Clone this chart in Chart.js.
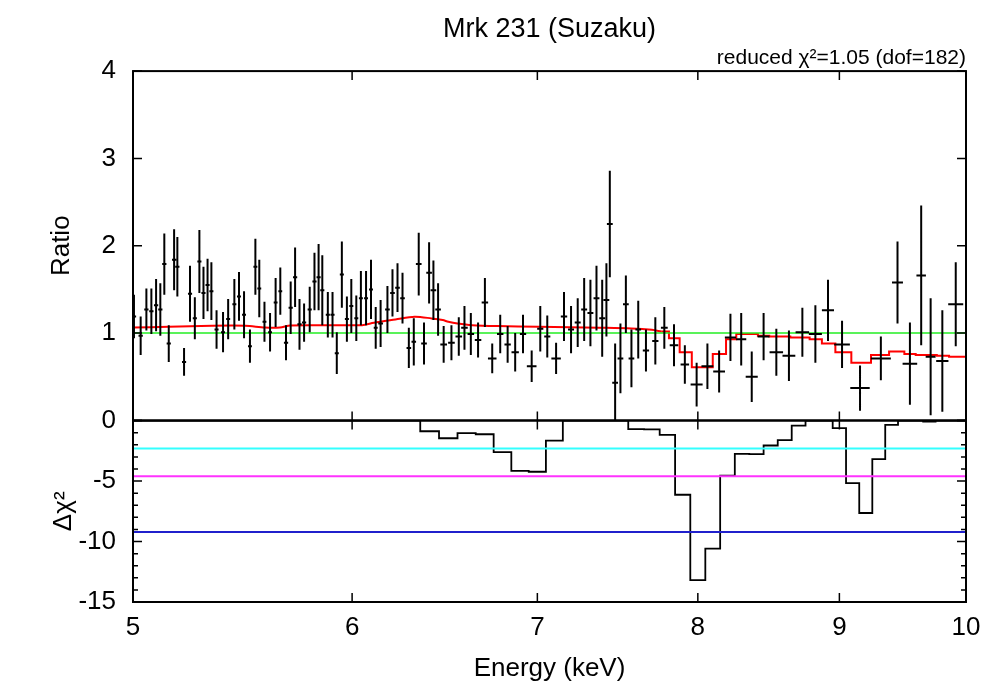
<!DOCTYPE html>
<html>
<head>
<meta charset="utf-8">
<title>Mrk 231 (Suzaku)</title>
<script src="https://cdn.jsdelivr.net/npm/chart.js@4.4.1/dist/chart.umd.min.js"></script>
<style>
  html, body { margin: 0; padding: 0; background: #fff; }
  #wrap { position: relative; width: 1000px; height: 700px; }
  #wrap canvas { position: absolute; left: 0; }
  #ratioChart { top: 0; }
  #chiChart { top: 388px; }
</style>
</head>
<body>
<div id="wrap">
  <canvas id="ratioChart" width="1000" height="453"></canvas>
  <canvas id="chiChart" width="1000" height="312"></canvas>
</div>
<script>
// energy axis
const xMin = 5;
const xMax = 10;
const xTicks = [5, 6, 7, 8, 9, 10];

// data / model ratio (top panel)
const energy = [
  5.004, 5.032, 5.056, 5.077, 5.097, 5.115, 5.132, 5.151, 5.174, 5.188,
  5.217, 5.243, 5.264, 5.284, 5.302, 5.320, 5.337, 5.360, 5.389, 5.412,
  5.440, 5.461, 5.484, 5.511, 5.536, 5.554, 5.578, 5.604, 5.630, 5.652,
  5.679, 5.701, 5.722, 5.743, 5.765, 5.792, 5.815, 5.835, 5.853, 5.880,
  5.903, 5.924, 5.949, 5.974, 5.996, 6.021, 6.044, 6.070, 6.095, 6.119,
  6.144, 6.179, 6.205, 6.231, 6.257, 6.290, 6.316, 6.342, 6.370, 6.397,
  6.420, 6.445, 6.475, 6.517, 6.557, 6.588, 6.623, 6.663, 6.701, 6.742,
  6.787, 6.829, 6.872, 6.917, 6.967, 7.017, 7.058, 7.110, 7.157, 7.199,
  7.239, 7.278, 7.316, 7.353, 7.388, 7.414, 7.435, 7.468, 7.501, 7.535,
  7.570, 7.613, 7.662, 7.722, 7.780, 7.843, 7.914, 7.992, 8.064, 8.143,
  8.220, 8.294, 8.367, 8.450, 8.540, 8.630, 8.727, 8.822, 8.915, 9.020,
  9.156, 9.316, 9.446, 9.544, 9.634, 9.710, 9.805, 9.915
];
const energyErr = [
  0.009, 0.009, 0.009, 0.009, 0.009, 0.009, 0.009, 0.009, 0.009, 0.009,
  0.009, 0.009, 0.009, 0.009, 0.009, 0.009, 0.009, 0.009, 0.009, 0.009,
  0.009, 0.009, 0.009, 0.009, 0.009, 0.009, 0.009, 0.009, 0.009, 0.009,
  0.010, 0.010, 0.010, 0.010, 0.010, 0.010, 0.010, 0.010, 0.010, 0.010,
  0.010, 0.010, 0.010, 0.010, 0.010, 0.010, 0.010, 0.010, 0.010, 0.010,
  0.012, 0.012, 0.012, 0.012, 0.012, 0.012, 0.012, 0.015, 0.015, 0.015,
  0.015, 0.015, 0.018, 0.018, 0.018, 0.018, 0.018, 0.018, 0.018, 0.024,
  0.018, 0.018, 0.021, 0.018, 0.028, 0.018, 0.018, 0.028, 0.019, 0.018,
  0.018, 0.018, 0.018, 0.018, 0.018, 0.018, 0.018, 0.018, 0.018, 0.018,
  0.018, 0.018, 0.020, 0.020, 0.022, 0.028, 0.028, 0.040, 0.040, 0.040,
  0.038, 0.035, 0.042, 0.042, 0.048, 0.046, 0.049, 0.048, 0.045, 0.059,
  0.074, 0.078, 0.043, 0.058, 0.038, 0.040, 0.050, 0.062
];
const ratio = [
  1.19, 0.97, 1.27, 1.25, 1.32, 1.27, 1.79, 0.88, 1.84, 1.76,
  0.67, 1.45, 1.17, 1.82, 1.46, 1.55, 1.48, 1.04, 1.01, 1.16,
  1.33, 1.42, 1.21, 0.85, 1.76, 1.51, 1.13, 1.01, 1.35, 1.48,
  0.89, 1.29, 1.64, 1.10, 1.12, 1.27, 1.59, 1.64, 1.49, 1.21,
  1.21, 0.77, 1.67, 1.16, 1.31, 1.17, 1.40, 1.40, 1.50, 1.06,
  1.11, 1.27, 1.46, 1.52, 1.40, 0.83, 0.90, 1.79, 0.88, 1.69,
  1.49, 1.27, 0.87, 0.89, 0.96, 1.06, 0.99, 0.92, 1.35, 0.71,
  0.99, 0.87, 0.78, 0.99, 0.62, 1.05, 0.96, 0.71, 1.19, 1.04,
  1.12, 1.27, 1.23, 1.40, 1.17, 1.38, 2.25, 0.43, 0.71, 1.33,
  0.71, 1.04, 0.80, 0.91, 1.06, 0.86, 0.64, 0.41, 0.62, 0.56,
  0.95, 0.93, 0.50, 0.96, 0.78, 0.74, 1.01, 0.99, 1.26, 0.87,
  0.37, 0.71, 1.58, 0.65, 1.66, 0.73, 0.68, 1.33
];
const ratioErr = [
  0.25, 0.22, 0.24, 0.26, 0.30, 0.30, 0.35, 0.21, 0.35, 0.34,
  0.16, 0.32, 0.24, 0.36, 0.30, 0.30, 0.33, 0.22, 0.23, 0.23,
  0.29, 0.28, 0.27, 0.19, 0.32, 0.33, 0.23, 0.22, 0.28, 0.27,
  0.20, 0.30, 0.34, 0.29, 0.22, 0.26, 0.33, 0.38, 0.40, 0.26,
  0.26, 0.24, 0.38, 0.26, 0.31, 0.26, 0.31, 0.31, 0.34, 0.24,
  0.27, 0.27, 0.27, 0.28, 0.29, 0.23, 0.27, 0.36, 0.24, 0.35,
  0.34, 0.30, 0.21, 0.20, 0.22, 0.25, 0.24, 0.20, 0.28, 0.17,
  0.22, 0.21, 0.22, 0.22, 0.18, 0.26, 0.24, 0.18, 0.28, 0.27,
  0.28, 0.36, 0.38, 0.37, 0.44, 0.42, 0.61, 0.45, 0.40, 0.33,
  0.33, 0.33, 0.24, 0.27, 0.24, 0.24, 0.22, 0.25, 0.26, 0.24,
  0.27, 0.30, 0.29, 0.27, 0.27, 0.29, 0.28, 0.33, 0.35, 0.27,
  0.26, 0.25, 0.47, 0.47, 0.80, 0.67, 0.58, 0.48
];

// model: smooth part, then binned (stepped) part
const modelSmoothE = [5.00, 5.15, 5.34, 5.49, 5.58, 5.65, 5.70, 6.05, 6.11, 6.22, 6.32, 6.41, 6.47, 6.50, 6.55, 6.63, 6.77, 7.01, 7.37, 7.57, 7.70, 7.76];
const modelSmooth = [1.064, 1.072, 1.084, 1.084, 1.064, 1.064, 1.088, 1.091, 1.118, 1.155, 1.187, 1.168, 1.149, 1.130, 1.110, 1.091, 1.080, 1.072, 1.061, 1.053, 1.037, 1.018];
const modelStepE = [7.76, 7.81, 7.88, 7.96, 8.10, 8.19, 8.26, 8.41, 8.49, 8.64, 8.78, 8.87, 8.97, 9.09, 9.24, 9.38, 9.50, 9.59, 9.76, 9.86, 10.0];
const modelStep = [1.018, 0.94, 0.78, 0.61, 0.76, 0.93, 0.99, 0.97, 0.96, 0.95, 0.93, 0.88, 0.78, 0.66, 0.75, 0.79, 0.76, 0.75, 0.74, 0.73, 0.73];
const unityLevel = 1;

// delta chi^2 (bottom panel), value holds from each left edge to the next
const chiE = [5.00, 6.35, 6.45, 6.55, 6.65, 6.75, 6.85, 6.95, 7.05, 7.15, 7.55, 7.65, 7.75, 7.85, 7.95, 8.05, 8.15, 8.25, 8.35, 8.45, 8.55, 8.65, 8.75, 8.95, 9.05, 9.15, 9.25, 9.35, 9.45, 9.65, 9.75, 10.0];
const chiVal = [0, -0.88, -1.46, -1.04, -1.13, -2.61, -4.15, -4.23, -1.65, 0, -0.71, -0.73, -1.18, -6.13, -13.19, -10.58, -4.56, -2.75, -2.77, -2.06, -1.62, -0.41, 0, -0.63, -5.17, -7.64, -3.19, -0.36, 0, -0.08, 0, 0];
const chiLevels = [-2.30, -4.61, -9.21];
const chiLevelColors = ["#33ffff", "#ff33ff", "#2020cc"];

const ratioTicks = [0, 1, 2, 3, 4];
const chiMajorTicks = [0, -5, -10, -15];
const chiMinorTicks = [-1, -2, -3, -4, -6, -7, -8, -9, -11, -12, -13, -14];

Chart.defaults.font.family = '"Liberation Sans", Arial, sans-serif';
Chart.defaults.color = "#000";

function toPoints(xs, ys) {
  return xs.map((x, i) => ({ x, y: ys[i] }));
}

function flatLine(v) {
  return [{ x: xMin, y: v }, { x: xMax, y: v }];
}

// frame box plus inward ticks, like the original plot
const framePlugin = {
  id: "frame",
  afterDraw(chart, args, opts) {
    const { ctx, chartArea: a, scales } = chart;
    const ys = scales.y;
    ctx.save();
    ctx.strokeStyle = "#000";
    ctx.lineWidth = 1.5;
    ctx.beginPath();
    xTicks.forEach((v) => {
      if (v <= xMin || v >= xMax) return;
      const px = scales.x.getPixelForValue(v);
      ctx.moveTo(px, a.top);
      ctx.lineTo(px, a.top + 9);
      ctx.moveTo(px, a.bottom);
      ctx.lineTo(px, a.bottom - 9);
    });
    (opts.major || []).forEach((v) => {
      const py = ys.getPixelForValue(v);
      ctx.moveTo(a.left, py);
      ctx.lineTo(a.left + 9, py);
      ctx.moveTo(a.right, py);
      ctx.lineTo(a.right - 9, py);
    });
    (opts.minor || []).forEach((v) => {
      const py = ys.getPixelForValue(v);
      ctx.moveTo(a.left, py);
      ctx.lineTo(a.left + 5, py);
      ctx.moveTo(a.right, py);
      ctx.lineTo(a.right - 5, py);
    });
    ctx.stroke();
    ctx.lineWidth = 2;
    ctx.strokeRect(a.left, a.top, a.right - a.left, a.bottom - a.top);
    ctx.restore();
  },
};

// crosses: x bin width and y error for each data point
const errorBarPlugin = {
  id: "errorBars",
  afterDatasetsDraw(chart) {
    const { ctx, chartArea: a, scales } = chart;
    const xs = scales.x;
    const ys = scales.y;
    ctx.save();
    ctx.beginPath();
    ctx.rect(a.left, a.top, a.right - a.left, a.bottom - a.top);
    ctx.clip();
    ctx.strokeStyle = "#000";
    ctx.lineWidth = 2;
    ctx.beginPath();
    energy.forEach((e, i) => {
      const px = xs.getPixelForValue(e);
      const py = ys.getPixelForValue(ratio[i]);
      ctx.moveTo(xs.getPixelForValue(e - energyErr[i]), py);
      ctx.lineTo(xs.getPixelForValue(e + energyErr[i]), py);
      ctx.moveTo(px, ys.getPixelForValue(ratio[i] - ratioErr[i]));
      ctx.lineTo(px, ys.getPixelForValue(ratio[i] + ratioErr[i]));
    });
    ctx.stroke();
    ctx.restore();
  },
};

function xScale(showLabels) {
  return {
    type: "logarithmic",
    min: xMin,
    max: xMax,
    display: showLabels,
    grid: { display: false, drawTicks: false },
    border: { display: false },
    afterBuildTicks: (s) => {
      s.ticks = xTicks.map((v) => ({ value: v }));
    },
    afterFit: (s) => {
      s.height = showLabels ? 98 : 0;
    },
    ticks: {
      font: { size: 26 },
      padding: 10,
      maxRotation: 0,
      autoSkip: false,
      callback: (v) => String(v),
    },
    title: {
      display: showLabels,
      text: "Energy (keV)",
      font: { size: 26 },
      padding: { top: 0, bottom: 16 },
    },
  };
}

function yScale(min, max, step, title, titlePad, hideZero) {
  return {
    min,
    max,
    grid: { display: false, drawTicks: false },
    border: { display: false },
    afterFit: (s) => {
      s.width = 133;
    },
    ticks: {
      stepSize: step,
      font: { size: 26 },
      padding: 17,
      callback: (v) => (hideZero && v === 0 ? "" : String(v)),
    },
    title: {
      display: true,
      text: title,
      font: { size: 26 },
      padding: { top: titlePad, bottom: 0 },
    },
  };
}

new Chart(document.getElementById("ratioChart"), {
  type: "scatter",
  data: {
    datasets: [
      {
        data: flatLine(unityLevel),
        showLine: true,
        borderColor: "#22ee22",
        borderWidth: 1.5,
        pointRadius: 0,
      },
      {
        data: toPoints(modelSmoothE, modelSmooth),
        showLine: true,
        borderColor: "#ff0000",
        borderWidth: 2,
        tension: 0.3,
        pointRadius: 0,
      },
      {
        data: toPoints(modelStepE, modelStep),
        showLine: true,
        stepped: "before",
        borderColor: "#ff0000",
        borderWidth: 2,
        pointRadius: 0,
      },
      {
        data: toPoints(energy, ratio),
        pointRadius: 0,
      },
    ],
  },
  options: {
    responsive: false,
    animation: false,
    devicePixelRatio: 1,
    layout: { padding: { top: 0, left: 0, right: 34, bottom: 20 } },
    plugins: {
      legend: { display: false },
      tooltip: { enabled: false },
      title: {
        display: true,
        text: "Mrk 231 (Suzaku)",
        fullSize: false,
        color: "#000",
        font: { size: 27, weight: "normal" },
        padding: { top: 13, bottom: 0 },
      },
      subtitle: {
        display: true,
        text: "reduced χ²=1.05 (dof=182)",
        fullSize: false,
        align: "end",
        color: "#000",
        font: { size: 21 },
        padding: { top: 0, bottom: 0.5 },
      },
      frame: { major: ratioTicks },
    },
    scales: {
      x: xScale(false),
      y: yScale(0, 4, 1, "Ratio", 46, true),
    },
  },
  plugins: [errorBarPlugin, framePlugin],
});

new Chart(document.getElementById("chiChart"), {
  type: "scatter",
  data: {
    datasets: [
      ...chiLevels.map((v, i) => ({
        data: flatLine(v),
        showLine: true,
        borderColor: chiLevelColors[i],
        borderWidth: 2,
        pointRadius: 0,
      })),
      {
        data: toPoints(chiE, chiVal),
        showLine: true,
        stepped: "before",
        borderColor: "#000",
        borderWidth: 1.8,
        pointRadius: 0,
      },
    ],
  },
  options: {
    responsive: false,
    animation: false,
    devicePixelRatio: 1,
    layout: { padding: { top: 20, left: 0, right: 34, bottom: 0 } },
    plugins: {
      legend: { display: false },
      tooltip: { enabled: false },
      frame: { major: chiMajorTicks, minor: chiMinorTicks },
    },
    scales: {
      x: xScale(true),
      y: yScale(-15, 0, 5, "Δχ²", 48, false),
    },
  },
  plugins: [framePlugin],
});
</script>
</body>
</html>
